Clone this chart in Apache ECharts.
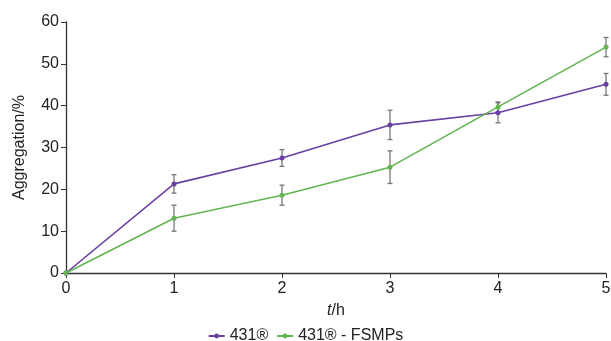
<!DOCTYPE html>
<html><head><meta charset="utf-8">
<script src="https://cdn.jsdelivr.net/npm/echarts@6/dist/echarts.min.js"></script>
<style>html,body{margin:0;padding:0;background:#fff}#c{width:611px;height:341px}</style>
</head><body><div id="c"></div>
<script>
const times = [0, 1, 2, 3, 4, 5];
const seriesNames = ['431®', '431® - FSMPs'];
const valuesA = [0, 21.3, 27.5, 35.4, 38.3, 45.1];
const errorsA = [0, 2.2, 2.0, 3.5, 2.4, 2.6];
const valuesB = [0, 13.1, 18.6, 25.3, 39.7, 54.0];
const errorsB = [0, 3.1, 2.4, 3.9, 1.2, 2.3];
const colors = ['#6a3fa3', '#62b550'];

function errData(vals, errs) {
  return times.map((t, i) => [t, vals[i] - errs[i], vals[i] + errs[i], errs[i]]);
}
function errSeries(vals, errs) {
  return {
    type: 'custom', silent: true, z: 1,
    data: errData(vals, errs),
    renderItem: function (params, api) {
      if (api.value(3) <= 0) return null;
      const x = api.value(0);
      const lo = api.coord([x, api.value(1)]);
      const hi = api.coord([x, api.value(2)]);
      const w = 2.5;
      const st = { stroke: '#777', lineWidth: 1.3 };
      return { type: 'group', children: [
        { type: 'line', shape: { x1: lo[0], y1: lo[1], x2: hi[0], y2: hi[1] }, style: st },
        { type: 'line', shape: { x1: lo[0] - w, y1: lo[1], x2: lo[0] + w, y2: lo[1] }, style: st },
        { type: 'line', shape: { x1: hi[0] - w, y1: hi[1], x2: hi[0] + w, y2: hi[1] }, style: st }
      ]};
    }
  };
}
const chart = echarts.init(document.getElementById('c'), null, { renderer: 'canvas' });
const fontFamily = 'Liberation Sans, Arial, sans-serif';
chart.setOption({
  animation: false,
  textStyle: { fontFamily: fontFamily },
  grid: { left: 66, right: 5, top: 22, bottom: 68, containLabel: false, outerBoundsMode: 'none' },
  xAxis: {
    type: 'value', min: 0, max: 5, interval: 1,
    name: '{i|t}/h', nameLocation: 'middle', nameGap: 30,
    nameTextStyle: { fontSize: 16, color: '#222', rich: { i: { fontStyle: 'italic', fontSize: 16, color: '#222', fontFamily: fontFamily } } },
    axisLine: { lineStyle: { color: '#333', width: 1.3 } },
    axisTick: { show: true, inside: false, length: 5, lineStyle: { color: '#333' } },
    axisLabel: { fontSize: 16, color: '#222', margin: 8 },
    splitLine: { show: false }
  },
  yAxis: {
    type: 'value', min: 0, max: 60, interval: 10,
    name: 'Aggregation/%', nameLocation: 'middle', nameGap: 38,
    nameTextStyle: { fontSize: 16, color: '#222' },
    axisLine: { show: true, lineStyle: { color: '#333', width: 1.3 } },
    axisTick: { show: true, inside: false, length: 5, lineStyle: { color: '#333' } },
    axisLabel: { fontSize: 16, color: '#222', margin: 7 },
    splitLine: { show: false }
  },
  legend: {
    bottom: -8, left: 'center', itemWidth: 16, itemHeight: 6, itemGap: 8,
    textStyle: { fontSize: 16, color: '#222' },
    data: seriesNames
  },
  series: [
    errSeries(valuesA, errorsA),
    errSeries(valuesB, errorsB),
    { name: seriesNames[0], type: 'line', z: 3, data: times.map((t, i) => [t, valuesA[i]]),
      color: colors[0], symbol: 'circle', symbolSize: 5, lineStyle: { width: 1.6 } },
    { name: seriesNames[1], type: 'line', z: 3, data: times.map((t, i) => [t, valuesB[i]]),
      color: colors[1], symbol: 'circle', symbolSize: 5, lineStyle: { width: 1.6 } }
  ]
});
</script></body></html>
